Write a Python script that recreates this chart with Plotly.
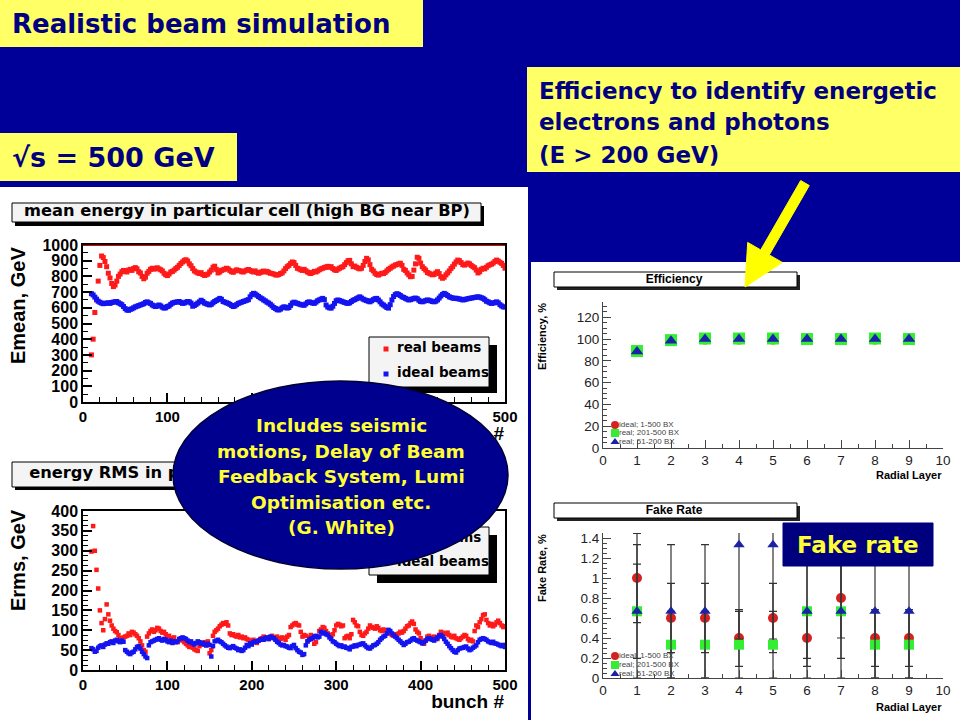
import plotly.graph_objects as go

W, H = 960, 720
BG = "#000099"
YEL = "#FFFF66"
NAVY = "#000080"
SLIDE_FONT = "DejaVu Sans"
ROOT_FONT = "Liberation Sans"
WIDE_FONT = "DejaVu Sans"

# ---------------- data: left plots (bunch number, step 2) ----------------
bunch = list(range(10, 501, 2))

mean_real = [
    300, 400, 570, 650, 770, 870, 930, 920, 895, 862,
    820, 790, 755, 735, 745, 770, 800, 815, 830, 838,
    832, 828, 840, 845, 838, 850, 856, 848, 830, 822,
    800, 785, 795, 820, 832, 845, 852, 846, 850, 855,
    848, 842, 835, 820, 810, 805, 815, 828, 832, 840,
    850, 858, 870, 882, 892, 902, 906, 898, 880, 868,
    850, 835, 828, 822, 818, 824, 812, 806, 810, 815,
    828, 840, 858, 865, 845, 822, 828, 838, 842, 846,
    852, 848, 838, 830, 826, 835, 842, 838, 836, 830,
    828, 835, 840, 844, 838, 832, 828, 835, 826, 820,
    824, 830, 834, 828, 832, 826, 820, 818, 815, 810,
    808, 812, 818, 822, 835, 850, 862, 870, 882, 892,
    888, 870, 852, 848, 842, 838, 845, 836, 828, 822,
    818, 825, 832, 828, 835, 842, 848, 852, 856, 860,
    864, 858, 862, 850, 842, 838, 846, 852, 858, 862,
    875, 888, 900, 902, 880, 862, 866, 858, 852, 848,
    852, 870, 895, 915, 905, 875, 845, 835, 820, 812,
    808, 815, 820, 818, 825, 835, 845, 852, 860, 866,
    872, 876, 880, 884, 870, 845, 838, 822, 810, 798,
    800, 840, 880, 922, 915, 885, 862, 850, 840, 825,
    820, 815, 810, 812, 822, 830, 818, 798, 788, 795,
    810, 822, 835, 850, 862, 878, 892, 904, 900, 888,
    875, 872, 878, 885, 880, 870, 862, 855, 840, 822,
    830, 845, 852, 848, 858, 868, 874, 878, 885, 895,
    904, 898, 890, 883, 870, 852,
]

mean_ideal = [
    690, 682, 668, 655, 642, 635, 630, 626, 628, 630,
    632, 628, 634, 636, 638, 640, 632, 626, 620, 608,
    595, 586, 584, 590, 594, 600, 606, 610, 614, 618,
    622, 626, 634, 638, 632, 628, 618, 612, 608, 612,
    618, 612, 604, 598, 600, 608, 612, 622, 630, 634,
    636, 638, 640, 634, 628, 630, 636, 640, 638, 630,
    610, 615, 622, 630, 638, 648, 640, 630, 626, 622,
    618, 622, 632, 640, 646, 652, 660, 654, 640, 636,
    632, 628, 622, 615, 608, 612, 620, 628, 632, 636,
    640, 644, 648, 652, 670, 684, 692, 688, 680, 672,
    664, 658, 650, 644, 636, 630, 622, 612, 602, 596,
    588, 586, 592, 600, 606, 604, 598, 602, 615, 630,
    636, 632, 628, 624, 620, 618, 616, 625, 634, 638,
    634, 630, 628, 636, 645, 650, 655, 660, 652, 618,
    605, 600, 598, 610, 628, 645, 650, 646, 642, 638,
    634, 630, 628, 632, 640, 648, 652, 658, 664, 670,
    662, 655, 650, 646, 642, 638, 645, 652, 658, 660,
    650, 638, 625, 618, 610, 602, 598, 620, 650, 672,
    684, 690, 685, 678, 670, 666, 660, 655, 650, 652,
    656, 660, 662, 658, 648, 640, 638, 642, 646, 650,
    648, 644, 640, 638, 642, 650, 662, 675, 685, 692,
    686, 678, 670, 666, 662, 660, 661, 658, 656, 654,
    650, 652, 655, 658, 660, 662, 664, 666, 668, 670,
    668, 664, 660, 652, 642, 638, 632, 628, 630, 634,
    638, 632, 620, 612, 606, 605,
]

rms_real = [
    298, 362, 300, 252, 205, 150, 118, 100, 128, 165,
    140, 124, 112, 104, 98, 95, 88, 80, 76, 82,
    84, 86, 92, 88, 96, 94, 90, 86, 80, 72,
    62, 50, 46, 84, 92, 98, 102, 96, 100, 106,
    104, 98, 94, 96, 90, 84, 86, 80, 78, 82,
    72, 70, 76, 78, 74, 70, 66, 62, 58, 64,
    56, 52, 50, 48, 60, 64, 66, 70, 62, 72,
    42, 50, 86, 96, 100, 104, 110, 114, 118, 116,
    120, 112, 92, 88, 90, 86, 84, 88, 82, 84,
    80, 82, 78, 76, 74, 70, 76, 72, 68, 74,
    78, 80, 84, 82, 80, 78, 82, 86, 82, 80,
    84, 80, 78, 82, 80, 76, 84, 88, 108, 112,
    116, 118, 114, 112, 96, 84, 88, 86, 72, 82,
    88, 84, 66, 70, 84, 98, 102, 108, 106, 98,
    92, 88, 86, 90, 100, 112, 116, 114, 110, 112,
    80, 84, 86, 80, 90, 126, 120, 112, 110, 96,
    88, 86, 92, 96, 104, 112, 108, 106, 104, 110,
    106, 100, 98, 102, 100, 96, 92, 94, 88, 86,
    90, 88, 92, 96, 94, 98, 104, 110, 112, 118,
    122, 116, 102, 96, 92, 80, 70, 66, 74, 84,
    86, 82, 80, 84, 80, 78, 88, 96, 94, 92,
    90, 94, 88, 84, 82, 86, 80, 78, 76, 80,
    84, 88, 86, 78, 74, 76, 72, 98, 112, 108,
    120, 128, 138, 140, 126, 118, 112, 116, 110, 114,
    120, 124, 118, 112, 108, 110,
]

rms_ideal = [
    55, 52, 46, 48, 56, 60, 62, 58, 64, 67,
    66, 70, 72, 68, 74, 76, 72, 70, 74, 71,
    50, 46, 42, 40, 44, 46, 52, 58, 60, 54,
    46, 40, 34, 30, 62, 70, 72, 74, 76, 78,
    80, 76, 74, 78, 76, 72, 70, 74, 68, 72,
    70, 72, 78, 80, 82, 80, 78, 74, 70, 72,
    67, 64, 68, 72, 70, 66, 68, 64, 62, 66,
    63, 34, 60, 72, 74, 76, 72, 70, 66, 62,
    59, 56, 55, 58, 60, 56, 54, 50, 52, 48,
    50, 56, 63, 60, 67, 64, 70, 72, 71, 74,
    76, 78, 76, 80, 82, 78, 84, 82, 80, 76,
    71, 68, 64, 62, 63, 60, 59, 56, 55, 60,
    63, 55, 50, 46, 44, 38, 40, 62, 72, 76,
    78, 80, 84, 86, 82, 84, 96, 92, 94, 90,
    88, 82, 78, 72, 70, 66, 63, 60, 62, 58,
    59, 56, 55, 52, 58, 59, 62, 60, 63, 64,
    66, 67, 62, 58, 55, 54, 58, 62, 63, 66,
    70, 76, 80, 84, 86, 92, 101, 98, 92, 88,
    84, 80, 76, 72, 68, 63, 66, 70, 71, 74,
    78, 80, 76, 74, 72, 70, 67, 70, 74, 78,
    80, 78, 76, 74, 78, 82, 86, 88, 84, 78,
    71, 66, 60, 55, 50, 46, 44, 50, 54, 55,
    56, 58, 59, 54, 50, 52, 56, 59, 62, 70,
    76, 78, 80, 78, 76, 72, 70, 68, 71, 67,
    66, 64, 62, 60, 63, 58,
]

# tick labels of the top-left plot (200-400 lie under the ellipse)
top_x_tickvals = [0, 100, 200, 300, 400, 500]
top_x_ticktext = ["0", "100", "", "", "", "500"]

# ---------------- data: right plots (radial layer) ----------------
layers = [1, 2, 3, 4, 5, 6, 7, 8, 9]
series_names = ["ideal; 1-500 BX", "real; 201-500 BX", "real; 51-200 BX"]

eff_ideal = [89, 99, 100, 100, 100, 100, 100, 100, 100]
eff_real_late = [89, 99, 100.5, 100.5, 100.5, 100, 100, 100.5, 100]
eff_real_early = [88.5, 98.5, 100, 100, 100, 100, 100, 100, 100]

fake_ideal = [1.0, 0.6, 0.6, 0.4, 0.6, 0.4, 0.8, 0.4, 0.4]
fake_ideal_err = [0.447, 0.346, 0.346, 0.283, 0.346, 0.283, 0.4, 0.283, 0.283]
fake_real_late = [0.667, 0.333, 0.333, 0.333, 0.333, 0.667, 0.667, 0.333, 0.333]
fake_real_late_err = [0.471, 0.333, 0.333, 0.333, 0.333, 0.471, 0.471, 0.333, 0.333]
fake_real_early = [0.667, 0.667, 0.667, 1.333, 1.333, 0.667, 0.667, 0.667, 0.667]
fake_real_early_err = [0.667, 0.667, 0.667, 0.943, 0.943, 0.667, 0.667, 0.667, 0.667]

ellipse_lines = ["Includes seismic", "motions, Delay of Beam", "Feedback System, Lumi",
                 "Optimisation etc.", "(G. White)"]

RED_L, BLUE_L = "#ff1a1a", "#1414f0"
RED_R, GREEN_R, BLUE_R = "#d42222", "#33ee33", "#1a22a8"

fig = go.Figure()


def px_x(x):
    return x / W


def px_y(y):
    return 1 - y / H


def prect(x0, y0, x1, y1, fill, line=None, lw=0):
    fig.add_shape(type="rect", xref="paper", yref="paper",
                  x0=px_x(x0), x1=px_x(x1), y0=px_y(y1), y1=px_y(y0),
                  fillcolor=fill, line=dict(color=line or fill, width=lw),
                  layer="below")


def ptext(x, y, s, size, color="black", pos="middle center",
          family=ROOT_FONT, weight="bold"):
    fig.add_trace(go.Scatter(
        x=[x], y=[y], mode="text", text=[s], textposition=pos,
        textfont=dict(family=family, size=size, color=color, weight=weight),
        xaxis="x5", yaxis="y5", showlegend=False, hoverinfo="skip"))


def pmark(x, y, color, symbol, size):
    fig.add_trace(go.Scatter(
        x=[x], y=[y], mode="markers",
        marker=dict(color=color, symbol=symbol, size=size, line=dict(width=0)),
        xaxis="x5", yaxis="y5", showlegend=False, hoverinfo="skip"))


def ann(x, y, s, size, color, family=SLIDE_FONT, xanchor="left",
        yanchor="middle", angle=0, weight="bold", pad=1):
    fig.add_annotation(x=x, y=y, xref="x5", yref="y5", text=s, showarrow=False,
                       font=dict(family=family, size=size, color=color, weight=weight),
                       xanchor=xanchor, yanchor=yanchor, textangle=angle, borderpad=pad)


# ---------------- background panels & boxes ----------------
prect(0, 187, 528, 720, "white")
prect(531, 262, 960, 720, "white")
prect(0, 0, 423, 47, YEL)
prect(0, 133, 237, 181, YEL)
prect(527, 67, 960, 172, YEL)

# ROOT title boxes (left)
prect(15, 206, 484, 226, "black")
prect(12, 203, 481, 222, "#f4f4f4", "black", 1)
prect(15, 465, 484, 490, "black")
prect(12, 462, 481, 487, "#f4f4f4", "black", 1)
# ROOT legends (left)
prect(377, 345, 497, 393, "black")
prect(369, 337, 489, 387, "#f4f4f4", "black", 1)
prect(377, 535, 497, 583, "black")
prect(369, 527, 489, 575, "#f4f4f4", "black", 1)
# right title boxes
prect(557, 275, 800, 290, "#222222")
prect(554, 272, 797, 287, "white", "black", 1)
prect(557, 506, 800, 521, "#222222")
prect(554, 503, 797, 518, "white", "black", 1)

# ---------------- data traces ----------------
fig.add_trace(go.Scatter(x=bunch, y=mean_real, mode="markers", xaxis="x", yaxis="y",
                         marker=dict(symbol="square", size=5, color=RED_L, line=dict(width=0)),
                         showlegend=False, hoverinfo="skip"))
fig.add_trace(go.Scatter(x=bunch, y=mean_ideal, mode="markers", xaxis="x", yaxis="y",
                         marker=dict(symbol="square", size=5, color=BLUE_L, line=dict(width=0)),
                         showlegend=False, hoverinfo="skip"))
fig.add_trace(go.Scatter(x=bunch, y=rms_real, mode="markers", xaxis="x2", yaxis="y2",
                         marker=dict(symbol="square", size=4.5, color=RED_L, line=dict(width=0)),
                         showlegend=False, hoverinfo="skip"))
fig.add_trace(go.Scatter(x=bunch, y=rms_ideal, mode="markers", xaxis="x2", yaxis="y2",
                         marker=dict(symbol="square", size=4.5, color=BLUE_L, line=dict(width=0)),
                         showlegend=False, hoverinfo="skip"))

for vals, col, sym, sz in [(eff_ideal, RED_R, "circle", 11),
                           (eff_real_late, GREEN_R, "square", 12),
                           (eff_real_early, BLUE_R, "triangle-up", 11)]:
    fig.add_trace(go.Scatter(x=layers, y=vals, mode="markers", xaxis="x3", yaxis="y3",
                             marker=dict(symbol=sym, size=sz, color=col, line=dict(width=0)),
                             showlegend=False, hoverinfo="skip"))

for vals, errs, col, sym, sz in [(fake_ideal, fake_ideal_err, RED_R, "circle", 10),
                                 (fake_real_late, fake_real_late_err, GREEN_R, "square", 10),
                                 (fake_real_early, fake_real_early_err, BLUE_R, "triangle-up", 10)]:
    fig.add_trace(go.Scatter(x=layers, y=vals, mode="markers", xaxis="x4", yaxis="y4",
                             error_y=dict(type="data", array=errs, visible=True,
                                          color="#333333", thickness=1.2, width=4),
                             marker=dict(symbol=sym, size=sz, color=col, line=dict(width=0)),
                             showlegend=False, hoverinfo="skip"))

# ---------------- decoration text under the ellipse (text traces) ----------------
ptext(247, 212, "mean energy in particular cell (high BG near BP)", 16.3, family=WIDE_FONT)
ptext(247, 474, "energy RMS in particular cell (high BG near BP)", 16.3, family=WIDE_FONT)
ptext(504, 435, "bunch #", 19, pos="middle left")
ptext(504, 703, "bunch #", 19, pos="middle left")
# left legends
for y_r, y_i in [(349, 374), (539, 563)]:
    pmark(386, y_r, RED_L, "square", 5)
    pmark(386, y_i, BLUE_L, "square", 5)
    ptext(397, y_r, "real beams", 13.5, pos="middle right", family=WIDE_FONT)
    ptext(397, y_i, "ideal beams", 13.5, pos="middle right", family=WIDE_FONT)
ptext(674, 280, "Efficiency", 12)
ptext(674, 511, "Fake Rate", 12)
# right legends
for ys in [(425, 433, 442), (656, 665, 674)]:
    for yy, col, sym, name in zip(ys, [RED_R, GREEN_R, BLUE_R],
                                  ["circle", "square", "triangle-up"], series_names):
        pmark(615, yy, col, sym, 8)
        ptext(619, yy, name, 8, color="#444444", pos="middle right", weight="normal")

# ---------------- shapes above ----------------
fig.add_shape(type="line", xref="x", yref="y", x0=0, x1=500, y0=1000, y1=1000,
              line=dict(color="#e00000", width=2), layer="above")
fig.add_shape(type="path", xref="x5", yref="y5",
              path="M 809.3,185.5 L 769.3,254.9 L 782.3,262.4 L 745,287 L 747.7,242.4 "
                   "L 760.7,249.9 L 800.7,180.5 Z",
              fillcolor="#FFFF00", line=dict(color="#FFFF00", width=1), layer="above")
fig.add_shape(type="circle", xref="x5", yref="y5", x0=173, x1=508, y0=381, y1=569,
              fillcolor="#00008f", line=dict(color="#000033", width=1.5), layer="above")
fig.add_shape(type="rect", xref="x5", yref="y5", x0=783, x1=933, y0=523, y1=566,
              fillcolor="#00007f", line=dict(color="#00007f", width=1), layer="above")

# ---------------- annotations (top layer) ----------------
ann(10, 24, "Realistic beam simulation", 26, NAVY)
ann(10, 157, "√s = 500 GeV", 27, NAVY)
ann(537, 91, "Efficiency to identify energetic", 23, NAVY)
ann(537, 122, "electrons and photons", 23, NAVY)
ann(537, 155, "(E > 200 GeV)", 23, NAVY)
for yy, line in zip([425, 451, 476, 502, 527], ellipse_lines):
    ann(341, yy, line, 18.5, "#FFFF33", xanchor="center", pad=0)
ann(858, 545, "Fake rate", 23, "#FFFF33", xanchor="center")
ann(18, 306, "Emean, GeV", 20, "black", family=ROOT_FONT, xanchor="center", angle=-90)
ann(18, 560, "Erms, GeV", 20, "black", family=ROOT_FONT, xanchor="center", angle=-90)
ann(542, 337, "Efficiency, %", 11, "black", family=ROOT_FONT, xanchor="center", angle=-90)
ann(542, 568, "Fake Rate, %", 11, "black", family=ROOT_FONT, xanchor="center", angle=-90)
ann(943, 475, "Radial Layer", 11, "black", family=ROOT_FONT, xanchor="right", pad=0)
ann(943, 707, "Radial Layer", 11, "black", family=ROOT_FONT, xanchor="right", pad=0)

# ---------------- axes ----------------
def root_axis(domain, rng, dtick, minor, anchor, size):
    return dict(domain=domain, range=rng, dtick=dtick, tick0=0, anchor=anchor,
                ticks="inside", ticklen=9, tickwidth=1.5, tickcolor="black",
                minor=dict(ticks="inside", ticklen=5, dtick=minor, tickcolor="black", tickwidth=1),
                showline=True, linecolor="black", linewidth=1.5, mirror=True,
                showgrid=False, zeroline=False, fixedrange=True, automargin=False,
                tickfont=dict(family=ROOT_FONT, size=size, color="black", weight="bold"))


def plain_axis(domain, rng, dtick, minor, anchor):
    return dict(domain=domain, range=rng, dtick=dtick, tick0=0, anchor=anchor,
                ticks="inside", ticklen=8, tickwidth=1, tickcolor="#444",
                minor=dict(ticks="inside", ticklen=4, dtick=minor, tickcolor="#444", tickwidth=1),
                showline=True, linecolor="#444", linewidth=1, mirror=False,
                showgrid=False, zeroline=False, fixedrange=True, automargin=False,
                tickfont=dict(family=ROOT_FONT, size=13.5, color="#222"))


xl = [px_x(83), px_x(505)]
xr = [px_x(603), px_x(943)]
top_x = root_axis(xl, [0, 500], 100, 20, "y", 15)
top_x.update(tickmode="array", tickvals=top_x_tickvals, ticktext=top_x_ticktext)

fig.update_layout(
    width=W, height=H, autosize=False,
    margin=dict(l=0, r=0, t=0, b=0, pad=0, autoexpand=False),
    paper_bgcolor=BG, plot_bgcolor="rgba(0,0,0,0)", showlegend=False,
    xaxis=top_x,
    yaxis=root_axis([px_y(402), px_y(245)], [0, 1000], 100, 50, "x", 16),
    xaxis2=root_axis(xl, [0, 500], 100, 20, "y2", 15),
    yaxis2=root_axis([px_y(670), px_y(511)], [0, 400], 50, 12.5, "x2", 16),
    xaxis3=plain_axis(xr, [0, 10], 1, 0.5, "y3"),
    yaxis3=plain_axis([px_y(448), px_y(302)], [0, 134], 20, 5, "x3"),
    xaxis4=plain_axis(xr, [0, 10], 1, 0.5, "y4"),
    yaxis4=plain_axis([px_y(678), px_y(533)], [0, 1.45], 0.2, 0.05, "x4"),
    xaxis5=dict(domain=[0, 1], range=[0, W], visible=False, fixedrange=True,
                anchor="y5", automargin=False),
    yaxis5=dict(domain=[0, 1], range=[H, 0], visible=False, fixedrange=True,
                anchor="x5", automargin=False),
)

fig.write_html(
    "out.html",
    config={"displayModeBar": False},
    post_script=("document.documentElement.style.margin='0';"
                 "document.body.style.margin='0';document.body.style.padding='0';"
                 "document.documentElement.style.overflow='hidden';"
                 "document.body.style.overflow='hidden';"),
)
